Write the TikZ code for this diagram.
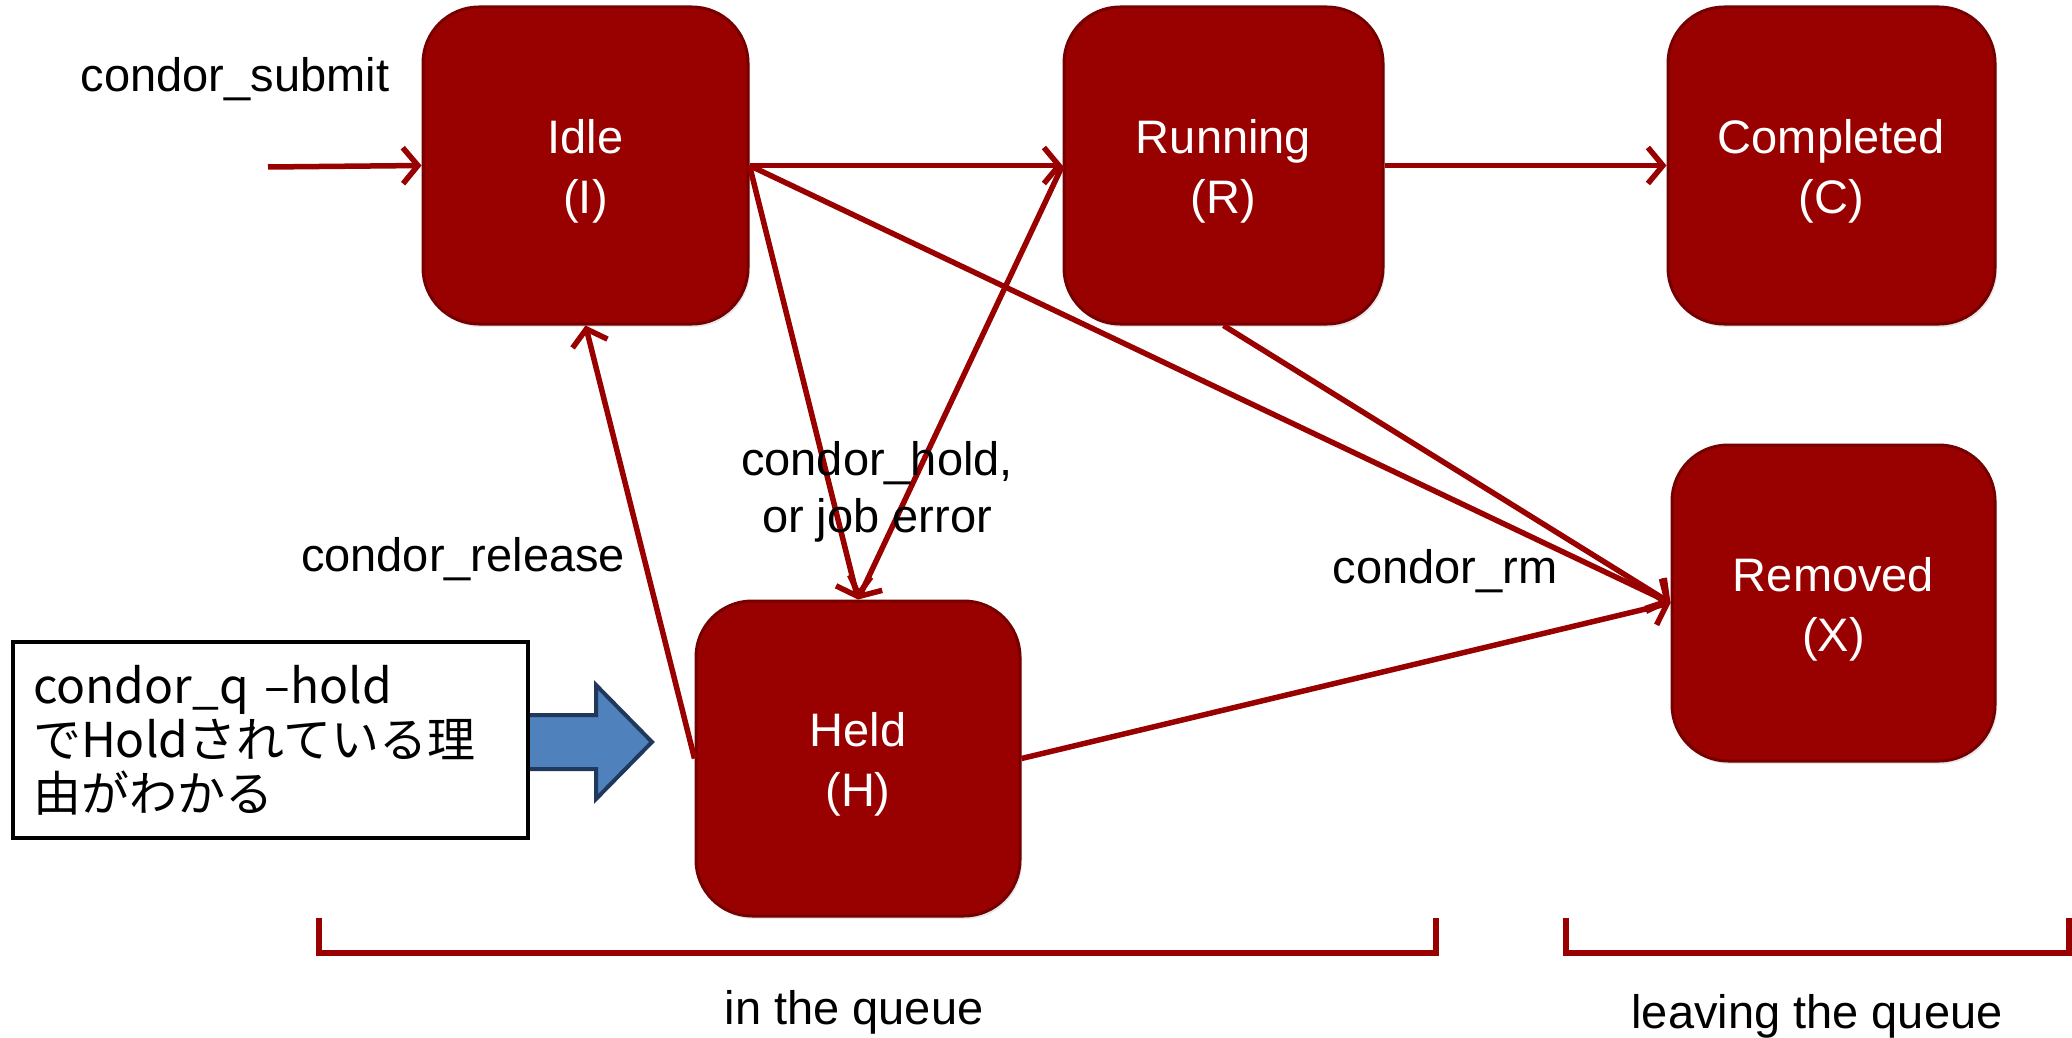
\documentclass[tikz,border=0pt]{standalone}
\usepackage{fontspec}
\setmainfont{Liberation Sans}
\newfontfamily\jpfont{Noto Sans CJK JP}
\usetikzlibrary{arrows.meta,shadows,calc}

\definecolor{statered}{RGB}{153,0,0}
\definecolor{stateedge}{RGB}{118,0,0}
\definecolor{hintblue}{RGB}{79,129,189}
\definecolor{hintedge}{RGB}{31,56,92}

% extra room above the first line of a state label, to lower the label a little
\newcommand{\statestrut}{\rule{0pt}{46pt}}

\begin{document}
\begin{tikzpicture}[x=1pt,y=-1pt,
  state/.style={draw=stateedge, line width=3pt, fill=statered,
    rounded corners=56pt, text=white, align=center, inner sep=0pt,
    font=\fontsize{47pt}{60pt}\selectfont,
    drop shadow={opacity=0.18, shadow xshift=2pt, shadow yshift=-3pt}},
  transition/.style={draw=statered, line width=5.5pt,
    -{Straight Barb[length=15pt,width=36pt]}},
  lbl/.style={font=\fontsize{47pt}{57pt}\selectfont, inner sep=0pt, align=center},
  bracket/.style={draw=statered, line width=5.5pt},
  hintbox/.style={draw=black, line width=4pt, fill=white, align=left,
    font=\jpfont\fontsize{48pt}{54pt}\selectfont, inner ysep=0pt, inner xsep=20pt},
  hintarrow/.style={fill=hintblue, draw=hintedge, line width=4pt, line join=miter}
]
% canvas
\path[use as bounding box, fill=white] (0,0) rectangle (2072,1038);

% job states
\node[state, minimum width=325pt, minimum height=317pt] (idle) at (585.5,165.5) {\statestrut Idle\\(I)};
\node[state, minimum width=319pt, minimum height=317pt] (running) at (1223.5,165.5) {\statestrut Running\\(R)};
\node[state, minimum width=327pt, minimum height=317pt] (completed) at (1831.5,165.5) {\statestrut Completed\\(C)};
\node[state, minimum width=323pt, minimum height=316pt] (removed) at (1833.5,603) {\statestrut Removed\\(X)};
\node[state, minimum width=324pt, minimum height=315pt] (held) at (858,758.5) {\statestrut Held\\(H)};

% transitions
\coordinate (submit) at (268,167);
\draw[transition] (submit) -- (idle.west);
\draw[transition] (idle.east) -- (running.west);
\draw[transition] (running.east) -- (completed.west);
\draw[transition] (idle.east) -- (held.north);
\draw[transition] (running.west) -- (held.north);
\draw[transition] (held.west) -- (idle.south);
\draw[transition] (idle.east) -- (removed.west);
\draw[transition] (running.south) -- (removed.west);
\draw[transition] (held.east) -- (removed.west);

% transition labels
\node[lbl, anchor=base] (submitlbl) at (235,92) {condor\_submit};
\node[lbl] (holdlbl) at (877,492) {condor\_hold,\\or job error};
\node[lbl, anchor=base] (releaselbl) at (463,571) {condor\_release};
\node[lbl, anchor=base] (rmlbl) at (1445,583) {condor\_rm};

% queue brackets
\draw[bracket] (319,918) -- (319,953) -- (1436,953) -- (1436,918);
\draw[bracket] (1566,918) -- (1566,953) -- (2069,953) -- (2069,918);
\node[lbl, anchor=base] (inqueue) at (854,1024) {in the queue};
\node[lbl, anchor=base] (leaving) at (1817,1028) {leaving the queue};

% note about condor_q -hold
\node[hintbox, anchor=north west, text width=475pt, minimum height=196pt] (hint) at (11,640)
  {condor\_q –hold\\でHoldされている理\\由がわかる};
\draw[hintarrow] ($(hint.east)+(0,-25)$) -- ++(66,0) -- ++(0,-30) -- ++(56,57)
  -- ++(-56,57) -- ++(0,-30) -- ++(-66,0);
\end{tikzpicture}
\end{document}
